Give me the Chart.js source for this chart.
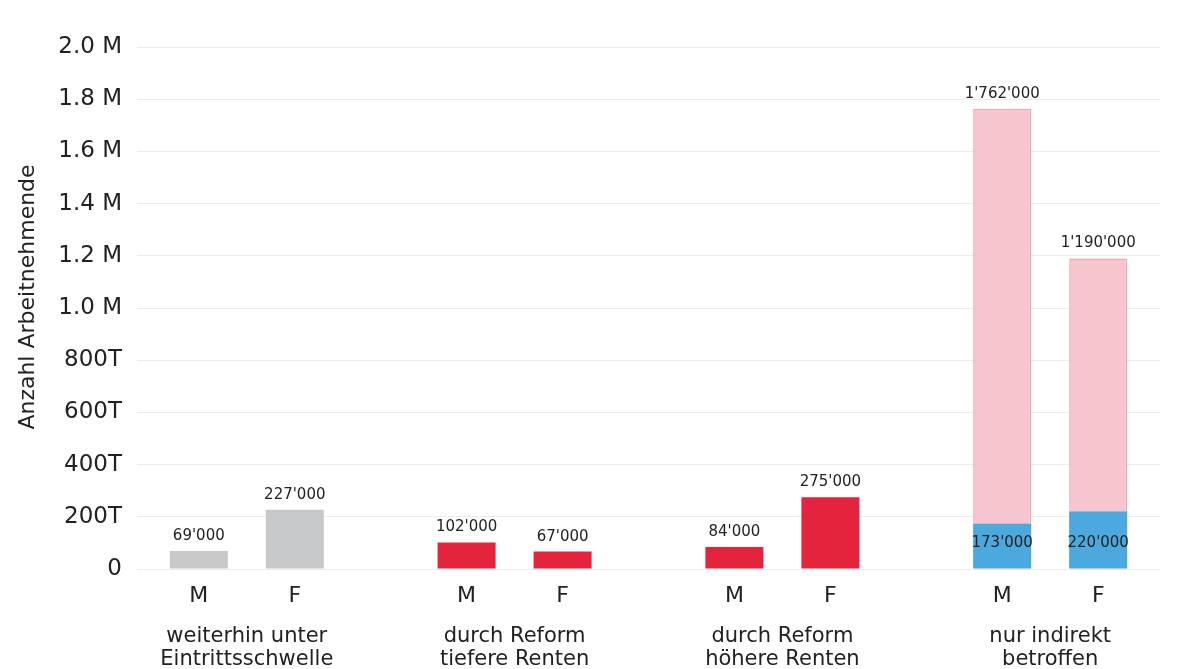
<!DOCTYPE html>
<html>
<head>
<meta charset="utf-8">
<script src="https://cdn.jsdelivr.net/npm/chart.js@4.4.1/dist/chart.umd.min.js"></script>
<style>
  html, body { margin: 0; padding: 0; background: #ffffff; }
  #wrap { width: 1199px; height: 669px; position: relative; }
</style>
</head>
<body>
<div id="wrap"><canvas id="c" width="1199" height="669"></canvas></div>
<script>
// ---- data ----
const groupLabels = [
  ["weiterhin unter", "Eintrittsschwelle"],
  ["durch Reform", "tiefere Renten"],
  ["durch Reform", "höhere Renten"],
  ["nur indirekt", "betroffen"]
];
const sexLabels = ["M", "F"];
const menDirect = [69000, 102000, 84000, 173000];
const womenDirect = [227000, 67000, 275000, 220000];
const menTotal = [null, null, null, 1762000];
const womenTotal = [null, null, null, 1190000];
const yTickLabels = ["0", "200T", "400T", "600T", "800T", "1.0 M", "1.2 M", "1.4 M", "1.6 M", "1.8 M", "2.0 M"];
const yTitle = "Anzahl Arbeitnehmende";

// ---- styles ----
const FONT = "'DejaVu Sans', sans-serif";
const groupColors = ["#c7c8ca", "#e4233d", "#e4233d", "#4ca9dd"];
const pinkFill = "#f6c5cd";
const pinkBorder = "#f0a5b2";
const textColor = "#222222";

function fmt(v) {
  return String(v).replace(/\B(?=(\d{3})+(?!\d))/g, "'");
}
function toPoints(arr) {
  return arr.map((v, i) => ({ x: i, y: v }));
}

Chart.defaults.font.family = FONT;
Chart.defaults.color = textColor;

const labelPlugin = {
  id: 'customLabels',
  afterDatasetsDraw(chart) {
    const ctx = chart.ctx;
    ctx.save();
    ctx.fillStyle = textColor;
    ctx.textAlign = 'center';
    ctx.textBaseline = 'alphabetic';
    ctx.font = "15px " + FONT;
    chart.data.datasets.forEach((ds, di) => {
      const meta = chart.getDatasetMeta(di);
      meta.data.forEach((bar, i) => {
        const v = ds.data[i].y;
        if (v == null) return;
        let ty;
        if (ds.totals && ds.totals[i] != null) {
          ty = bar.base - 22;
        } else {
          ty = bar.y - 11;
        }
        ctx.fillText(fmt(v), bar.x, ty);
      });
    });
    // M / F labels under bars
    ctx.font = "22px " + FONT;
    [0, 1].forEach(di => {
      const meta = chart.getDatasetMeta(di);
      meta.data.forEach(bar => {
        ctx.fillText(sexLabels[di], bar.x, 602);
      });
    });
    // group labels
    const xs = chart.scales.x;
    ctx.font = "21px " + FONT;
    groupLabels.forEach((lines, i) => {
      const cx = xs.getPixelForValue(i);
      lines.forEach((ln, li) => {
        ctx.fillText(ln, cx, 642 + li * 23);
      });
    });
    // y axis title
    ctx.font = "22px " + FONT;
    ctx.translate(28, 297);
    ctx.rotate(-Math.PI / 2);
    ctx.textBaseline = 'middle';
    ctx.fillText(yTitle, 0, 0);
    ctx.restore();
  }
};

new Chart(document.getElementById('c'), {
  type: 'bar',
  data: {
    datasets: [
      {
        label: 'M',
        data: toPoints(menDirect),
        totals: menTotal,
        stack: 'M',
        backgroundColor: groupColors,
        borderWidth: 0
      },
      {
        label: 'F',
        data: toPoints(womenDirect),
        totals: womenTotal,
        stack: 'F',
        backgroundColor: groupColors,
        borderWidth: 0
      },
      {
        label: 'M total',
        data: toPoints(menTotal),
        stack: 'M',
        backgroundColor: pinkFill,
        borderColor: pinkBorder,
        borderWidth: 1.5
      },
      {
        label: 'F total',
        data: toPoints(womenTotal),
        stack: 'F',
        backgroundColor: pinkFill,
        borderColor: pinkBorder,
        borderWidth: 1.5
      }
    ]
  },
  options: {
    responsive: false,
    animation: false,
    devicePixelRatio: 1,
    categoryPercentage: 0.717,
    barPercentage: 0.604,
    layout: { padding: { top: 47, bottom: 100, left: 0, right: 39 } },
    plugins: {
      legend: { display: false },
      tooltip: { enabled: false },
      title: { display: false }
    },
    scales: {
      x: {
        type: 'linear',
        display: false,
        stacked: true,
        offset: false,
        min: -0.41,
        max: 3.41,
        afterBuildTicks: (scale) => {
          scale.ticks = groupLabels.map((_, i) => ({ value: i }));
        }
      },
      y: {
        stacked: false,
        min: 0,
        max: 2000000,
        afterFit: (scale) => { scale.width = 137; },
        border: { display: false },
        grid: { color: '#ececec', lineWidth: 1, drawTicks: false },
        ticks: {
          stepSize: 200000,
          padding: 15,
          color: textColor,
          font: { size: 23, family: FONT },
          callback: (v, i) => yTickLabels[i]
        }
      }
    }
  },
  plugins: [labelPlugin]
});
</script>
</body>
</html>
